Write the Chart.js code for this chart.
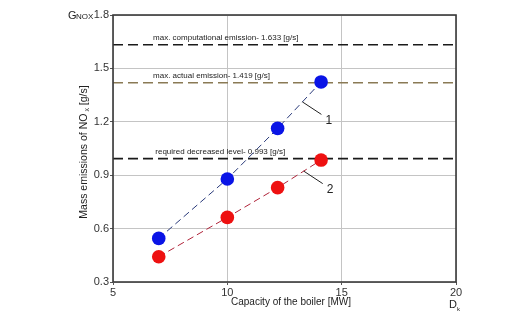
<!DOCTYPE html>
<html>
<head>
<meta charset="utf-8">
<script src="https://cdn.jsdelivr.net/npm/chart.js@4.4.1/dist/chart.umd.min.js"></script>
<style>
  html, body { margin: 0; padding: 0; background: #fff; }
  #wrap { width: 520px; height: 324px; }
</style>
</head>
<body>
<div id="wrap"><canvas id="c" width="520" height="324"></canvas></div>
<script>
// Boiler capacity [MW]
const capacity = [7, 10, 12.2, 14.1];
// Mass emissions of NOx [g/s]
const series1 = [0.545, 0.879, 1.163, 1.424];
const series2 = [0.442, 0.663, 0.830, 0.985];
// Reference emission levels [g/s]
const levelValues = [1.633, 1.419, 0.993];
const levelLabels = [
  'max. computational emission- 1.633 [g/s]',
  'max. actual emission- 1.419 [g/s]',
  'required decreased level- 0.993 [g/s]'
];
const levelColors = ['#1a1a1a', '#8a7a55', '#1a1a1a'];
const seriesNames = ['1', '2'];
const xTicks = [5, 10, 15, 20];
const yTicks = [0.3, 0.6, 0.9, 1.2, 1.5, 1.8];

const FONT = '"Liberation Sans", Arial, sans-serif';

const pts = (ys) => capacity.map((x, i) => ({ x, y: ys[i] }));

const levelSets = levelValues.map((v, i) => ({
  label: levelLabels[i],
  data: [{ x: 5, y: v }, { x: 20, y: v }],
  showLine: true,
  borderColor: levelColors[i],
  borderWidth: 1.6,
  borderDash: [10, 5],
  pointRadius: 0,
  order: 2
}));

const seriesSets = [
  { label: seriesNames[0], data: pts(series1), line: '#2a3a7a', fill: '#0a14e6' },
  { label: seriesNames[1], data: pts(series2), line: '#b0243a', fill: '#ee1111' }
].map(s => ({
  label: s.label,
  data: s.data,
  showLine: true,
  borderColor: s.line,
  borderWidth: 1,
  borderDash: [7, 4],
  pointRadius: 6.8,
  pointStyle: 'circle',
  pointBackgroundColor: s.fill,
  pointBorderColor: s.fill,
  pointBorderWidth: 0,
  order: 1
}));

// Texts, frame and leader lines drawn on top of the scales
const decor = {
  id: 'decor',
  afterDatasetsDraw(chart) {
    const { ctx, chartArea: a, scales: { x, y } } = chart;
    ctx.save();

    // level captions above each dashed line
    ctx.fillStyle = '#222';
    ctx.font = '8px ' + FONT;
    ctx.textAlign = 'left';
    ctx.textBaseline = 'alphabetic';
    const capX = [6.75, 6.75, 6.85];
    levelValues.forEach((v, i) => {
      ctx.fillText(levelLabels[i], x.getPixelForValue(capX[i]), y.getPixelForValue(v) - 5);
    });

    // leader lines from series lines to their numbers
    const leaders = [
      { ys: series1, t: 0.57 },
      { ys: series2, t: 0.6 }
    ];
    ctx.strokeStyle = '#222';
    ctx.lineWidth = 1;
    ctx.font = '12px ' + FONT;
    leaders.forEach((L, i) => {
      const x0 = capacity[2] + (capacity[3] - capacity[2]) * L.t;
      const y0 = L.ys[2] + (L.ys[3] - L.ys[2]) * L.t;
      const px = x.getPixelForValue(x0), py = y.getPixelForValue(y0);
      ctx.beginPath();
      ctx.moveTo(px, py);
      ctx.lineTo(px + 19, py + 12.5);
      ctx.stroke();
      ctx.textAlign = 'left';
      ctx.textBaseline = 'middle';
      ctx.fillText(seriesNames[i], px + 23, py + 19);
    });

    // frame around the plot area
    ctx.strokeStyle = '#3a3a3a';
    ctx.lineWidth = 1.6;
    ctx.strokeRect(a.left, a.top, a.right - a.left, a.bottom - a.top);

    // axis titles
    ctx.fillStyle = '#222';
    ctx.textBaseline = 'alphabetic';
    // G NOX symbol
    ctx.textAlign = 'left';
    ctx.font = '11px ' + FONT;
    ctx.fillText('G', 68, a.top + 4);
    ctx.font = '8px ' + FONT;
    ctx.fillText('NOX', 76, a.top + 4);

    // D k symbol
    ctx.font = '11px ' + FONT;
    ctx.fillText('D', 449, a.bottom + 26);
    ctx.font = '6px ' + FONT;
    ctx.fillText('k', 457, a.bottom + 29);

    // x title
    ctx.font = '10px ' + FONT;
    ctx.textAlign = 'center';
    ctx.fillText('Capacity of the boiler [MW]', 291, a.bottom + 23);

    // y title, rotated, with subscript x
    ctx.translate(87, 152);
    ctx.rotate(-Math.PI / 2);
    ctx.textAlign = 'left';
    const p1 = 'Mass emissions of NO', p2 = 'x', p3 = ' [g/s]';
    ctx.font = '10.5px ' + FONT;
    const w1 = ctx.measureText(p1).width, w3 = ctx.measureText(p3).width;
    ctx.font = '7px ' + FONT;
    const w2 = ctx.measureText(p2).width + 2;
    let sx = -(w1 + w2 + w3) / 2;
    ctx.font = '10.5px ' + FONT;
    ctx.fillText(p1, sx, 0);
    ctx.font = '7px ' + FONT;
    ctx.fillText(p2, sx + w1 + 2, 2);
    ctx.font = '10.5px ' + FONT;
    ctx.fillText(p3, sx + w1 + w2, 0);

    ctx.restore();
  }
};

new Chart(document.getElementById('c'), {
  type: 'scatter',
  data: { datasets: [...levelSets, ...seriesSets] },
  options: {
    responsive: false,
    animation: false,
    layout: { padding: { top: 15, right: 64, left: 0, bottom: 0 } },
    plugins: { legend: { display: false }, tooltip: { enabled: false } },
    scales: {
      x: {
        type: 'linear',
        min: 5, max: 20,
        afterBuildTicks: (s) => { s.ticks = xTicks.map(v => ({ value: v })); },
        afterFit: (s) => { s.height = 42; },
        grid: { color: '#c4c4c4', lineWidth: 1, tickLength: 3, tickColor: '#555' },
        border: { display: false },
        ticks: { color: '#333', font: { family: FONT, size: 11 }, padding: 1, maxRotation: 0 }
      },
      y: {
        type: 'linear',
        min: 0.3, max: 1.8,
        afterBuildTicks: (s) => { s.ticks = yTicks.map(v => ({ value: v })); },
        afterFit: (s) => { s.width = 113; },
        grid: { color: '#c4c4c4', lineWidth: 1, tickLength: 3, tickColor: '#555' },
        border: { display: false },
        ticks: {
          color: '#333', font: { family: FONT, size: 11 }, padding: 1,
          callback: (v) => v.toFixed(1)
        }
      }
    }
  },
  plugins: [decor]
});
</script>
</body>
</html>
